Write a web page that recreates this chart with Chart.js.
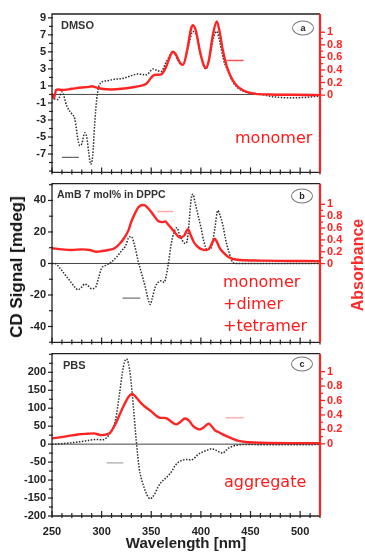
<!DOCTYPE html>
<html lang="en">
<head>
<meta charset="UTF-8">
<title>AmB CD and absorbance spectra</title>
<script src="https://cdn.jsdelivr.net/npm/chart.js"></script>
<style>
  body { margin: 0; background: #fff; width: 365px; height: 553px; position: relative; overflow: hidden;
         font-family: "Liberation Sans", Arial, sans-serif; }
  canvas { position: absolute; left: 0; }
  .lbl { position: absolute; white-space: nowrap; }
  .name { font-weight: bold; font-size: 11px; color: #333; transform: translateY(-50%); }
  .tag { font-family: "DejaVu Sans", sans-serif; font-size: 16px; color: #ff1a1a; line-height: 22px; }
  .circ { width: 20px; height: 13px; border: 1px solid #777; border-radius: 50%; font-weight: bold;
          font-size: 9px; text-align: center; line-height: 13px; color: #222; transform: translate(-50%, -50%); }
  .ytitle { font-weight: bold; font-size: 17px; color: #111; transform: translate(-50%, -50%) rotate(-90deg); }
</style>
</head>
<body>
<canvas id="cA" width="365" height="186" style="top:0px"></canvas>
<canvas id="cB" width="365" height="186" style="top:170px"></canvas>
<canvas id="cC" width="365" height="213" style="top:340px"></canvas>

<div class="lbl name" style="left:61px; top:25px">DMSO</div>
<div class="lbl name" style="left:57px; top:194px; font-size:10.5px">AmB 7 mol% in DPPC</div>
<div class="lbl name" style="left:63px; top:365px">PBS</div>

<div class="lbl circ" style="left:303px; top:28px">a</div>
<div class="lbl circ" style="left:302px; top:196px">b</div>
<div class="lbl circ" style="left:302px; top:364px">c</div>

<div class="lbl tag" style="left:235px; top:127px">monomer</div>
<div class="lbl tag" style="left:223px; top:271px">monomer<br>+dimer<br>+tetramer</div>
<div class="lbl tag" style="left:224px; top:471px">aggregate</div>

<div class="lbl ytitle" style="left:17px; top:267px">CD Signal [mdeg]</div>
<div class="lbl ytitle" style="left:358px; top:265px; color:#ff2a2a; font-size:16px">Absorbance</div>

<script>
// x axis
const xMajor = [250, 300, 350, 400, 450, 500];
const absTicks = [0, 0.2, 0.4, 0.6, 0.8, 1];

// (a) DMSO
const dmsoCdNm = [252, 256, 260, 265, 270, 273, 276, 278, 280, 283, 285, 287, 289, 291, 293, 295, 298, 305, 315, 322, 330, 336, 345, 352, 356, 360, 365, 372, 377, 382, 387, 392, 396, 400, 405, 409, 413, 416, 419, 423, 427, 432, 438, 445, 455, 465, 475, 490, 505, 518];
const dmsoCd = [-0.5, -0.6, 0.3, -1.4, -2.3, -2.9, -5.2, -6.0, -5.8, -4.5, -5.0, -6.8, -8.2, -7.2, -3.5, -0.6, 1.2, 1.6, 1.8, 1.9, 2.2, 2.4, 2.3, 3.0, 2.8, 2.7, 3.8, 5.0, 4.0, 3.5, 5.5, 7.4, 6.8, 4.5, 3.0, 4.5, 6.8, 7.4, 6.2, 4.0, 2.8, 1.5, 0.7, 0.3, 0.1, -0.1, -0.3, -0.4, -0.35, -0.2];
const dmsoAbsNm = [250, 252, 254, 256, 260, 270, 280, 287, 290, 295, 300, 310, 320, 330, 340, 345, 350, 353, 360, 365, 369, 372, 375, 379, 382, 386, 390, 392, 395, 399, 403, 405, 408, 412, 416, 419, 422, 426, 430, 435, 440, 446, 455, 470, 490, 520];
const dmsoAbs = [0.02, -0.05, 0.08, 0.09, 0.08, 0.1, 0.12, 0.13, 0.14, 0.12, 0.1, 0.09, 0.1, 0.12, 0.15, 0.18, 0.28, 0.32, 0.33, 0.45, 0.62, 0.69, 0.64, 0.51, 0.48, 0.7, 1.05, 1.11, 1.02, 0.7, 0.47, 0.43, 0.55, 0.95, 1.17, 1.0, 0.72, 0.46, 0.3, 0.17, 0.1, 0.05, 0.02, 0.01, 0.005, 0];
const dmsoTicks = [-7, -5, -3, -1, 1, 3, 5, 7, 9];

// (b) AmB 7 mol% in DPPC
const dppcCdNm = [250, 253, 258, 263, 268, 273, 276, 280, 283, 286, 290, 294, 297, 300, 305, 310, 315, 320, 324, 328, 330, 333, 337, 341, 344, 347, 349, 351, 354, 357, 360, 363, 365, 367, 370, 373, 376, 378, 381, 384, 386, 388, 390, 392, 394, 397, 400, 403, 406, 409, 411, 414, 417, 419, 422, 425, 428, 431, 434, 450, 480, 520];
const dppcCd = [0, 0, -3, -7, -11, -15, -16.7, -15, -13, -14, -16, -15, -9, -3, -1, 1, 4, 8, 11, 17, 17, 12, 1, -8, -15, -23, -26, -22, -15, -12, -11, -12, -8, -1, 12, 20, 22.7, 19, 15, 12.7, 14, 25, 40, 44, 39, 31, 23, 14, 9, 9, 11, 22, 33.6, 31, 24.7, 15, 7.8, 2, 0, 0, 0, 0];
const dppcAbsNm = [250, 260, 270, 280, 288, 295, 300, 307, 313, 318, 323, 327, 330, 334, 337, 341, 344, 347, 350, 354, 357, 361, 364, 367, 371, 375, 379, 383, 387, 390, 393, 397, 401, 406, 409, 412, 414, 416, 419, 423, 427, 432, 440, 460, 490, 520];
const dppcAbs = [0.26, 0.24, 0.23, 0.24, 0.23, 0.2, 0.21, 0.23, 0.26, 0.33, 0.44, 0.56, 0.71, 0.86, 0.95, 0.99, 0.98, 0.93, 0.87, 0.78, 0.72, 0.7, 0.71, 0.66, 0.58, 0.5, 0.44, 0.47, 0.58, 0.47, 0.36, 0.28, 0.24, 0.23, 0.27, 0.37, 0.42, 0.37, 0.26, 0.18, 0.12, 0.08, 0.06, 0.05, 0.045, 0.04];
const dppcTicks = [-40, -20, 0, 20, 40];

// (c) PBS
const pbsCdNm = [250, 262, 276, 286, 293, 301, 305, 309, 314, 318, 321, 323, 325, 327, 329, 332, 335, 338, 341, 344, 347, 349, 351, 354, 357, 360, 364, 368, 371, 374, 377, 381, 386, 390, 393, 397, 401, 405, 411, 416, 420, 422, 425, 428, 432, 436, 446, 470, 500, 520];
const pbsCd = [0, 2, 6, 10, 13, 12, 18, 33, 68, 140, 200, 228, 237, 225, 190, 104, 6, -70, -105, -130, -148, -152, -148, -136, -118, -106, -96, -85, -74, -60, -51, -45, -43, -44, -40, -29, -23, -18, -13, -18, -24, -25, -18, -11, -6, -3, -1, -2, -2, -1];
const pbsAbsNm = [250, 263, 276, 286, 292, 300, 305, 309, 313, 318, 322, 327, 331, 335, 340, 345, 350, 355, 359, 363, 366, 370, 375, 379, 384, 388, 392, 396, 399, 403, 408, 411, 414, 418, 422, 427, 432, 438, 445, 460, 490, 520];
const pbsAbs = [0.075, 0.1, 0.13, 0.14, 0.145, 0.12, 0.13, 0.16, 0.25, 0.4, 0.52, 0.65, 0.69, 0.64, 0.56, 0.5, 0.45, 0.39, 0.36, 0.36, 0.35, 0.31, 0.27, 0.3, 0.35, 0.32, 0.25, 0.21, 0.2, 0.23, 0.28, 0.24, 0.19, 0.16, 0.13, 0.1, 0.07, 0.04, 0.025, 0.015, 0.01, 0.01];
const pbsTicks = [-200, -150, -100, -50, 0, 50, 100, 150, 200];

// stray legend keys left in the figure: [nm from, nm to], level
const dmsoKeyCd = [[260, 277], -7.4], dmsoKeyAbs = [[426, 443], 0.55];
const dppcKeyCd = [[321, 339], -22], dppcKeyAbs = [[356, 372], 0.88];
const pbsKeyCd = [[305, 322], -52], pbsKeyAbs = [[425, 443], 0.36];

const RED = '#ff2424';

function pts(nm, vals) { return nm.map((x, i) => ({ x: x, y: vals[i] })); }
function keyPts(k) { return [{ x: k[0][0], y: k[1] }, { x: k[0][1], y: k[1] }]; }
function seg(ctx, x1, y1, x2, y2) { ctx.beginPath(); ctx.moveTo(x1, y1); ctx.lineTo(x2, y2); ctx.stroke(); }
const r3 = v => Math.round(v * 1000) / 1000;

// frame, zero line and major/minor ticks drawn through the scales
const framePlugin = {
    id: 'frame',
    beforeDatasetsDraw(chart) {
        const { ctx, chartArea: a, scales } = chart;
        const y0 = scales.y.getPixelForValue(0);
        ctx.save();
        ctx.strokeStyle = '#444';
        ctx.lineWidth = 1;
        seg(ctx, a.left, y0, a.right, y0);
        ctx.restore();
    },
    afterDatasetsDraw(chart) {
        const o = chart.options.plugins.frame;
        const { ctx, chartArea: a, scales } = chart;
        const { x, y, y2 } = scales;
        ctx.save();
        ctx.strokeStyle = '#222';
        ctx.lineWidth = 1.3;
        ctx.beginPath();
        ctx.moveTo(a.right, a.top); ctx.lineTo(a.left, a.top);
        ctx.lineTo(a.left, a.bottom); ctx.lineTo(a.right, a.bottom);
        ctx.stroke();
        ctx.lineWidth = 1.2;
        for (let v = 250; v <= 520; v += 10) {
            const px = x.getPixelForValue(v);
            const major = v % 50 === 0;
            seg(ctx, px, a.bottom - (major ? 5 : 3), px, a.bottom + 2);
        }
        for (let i = 0; ; i++) {
            const v = r3(o.minorFrom + i * o.minorStep);
            if (v > y.max) break;
            const py = y.getPixelForValue(v);
            const major = o.ticks.includes(v);
            seg(ctx, a.left - (major ? 4 : 3), py, a.left + 1, py);
        }
        ctx.strokeStyle = RED;
        ctx.lineWidth = 2.2;
        seg(ctx, a.right, a.top, a.right, a.bottom);
        ctx.lineWidth = 1.3;
        for (let i = 0; i <= 10; i++) {
            const v = r3(i * 0.1);
            const py = y2.getPixelForValue(v);
            seg(ctx, a.right, py, a.right + (i % 2 === 0 ? 5 : 3), py);
        }
        ctx.restore();
    }
};

const tickFont = { family: '"Liberation Sans", Arial, sans-serif', weight: 'bold', size: 11 };

function makePanel(p) {
    return new Chart(document.getElementById(p.id), {
        type: 'line',
        data: {
            datasets: [
                { data: pts(p.absNm, p.abs), yAxisID: 'y2', borderColor: RED, borderWidth: 2.4,
                  cubicInterpolationMode: 'monotone', pointRadius: 0 },
                { data: pts(p.cdNm, p.cd), yAxisID: 'y', borderColor: '#2a2a2a', borderWidth: 1.5,
                  borderDash: [1.5, 1.5], cubicInterpolationMode: 'monotone', pointRadius: 0 },
                { data: keyPts(p.keyCd), yAxisID: 'y', borderColor: p.keyCdColor, borderWidth: 1.3, pointRadius: 0 },
                { data: keyPts(p.keyAbs), yAxisID: 'y2', borderColor: p.keyAbsColor, borderWidth: 1.5, pointRadius: 0 }
            ]
        },
        options: {
            responsive: false,
            animation: false,
            layout: { padding: { top: p.padTop, left: 0, right: 0, bottom: 0 } },
            plugins: {
                legend: { display: false },
                tooltip: { enabled: false },
                frame: { ticks: p.ticks, minorFrom: p.minorFrom, minorStep: p.minorStep }
            },
            scales: {
                x: {
                    type: 'linear', min: 250, max: 520,
                    grid: { display: false, drawTicks: false }, border: { display: false },
                    afterBuildTicks: s => { s.ticks = xMajor.map(v => ({ value: v })); },
                    afterFit: s => { s.height = p.xHeight; },
                    ticks: { display: p.xLabels, padding: 9, color: '#222', font: tickFont, maxRotation: 0 },
                    title: { display: p.xLabels, text: 'Wavelength [nm]', color: '#222', padding: 0,
                             font: { family: '"Liberation Sans", Arial, sans-serif', weight: 'bold', size: 15 } }
                },
                y: {
                    position: 'left', min: p.yMin, max: p.yMax,
                    grid: { display: false, drawTicks: false }, border: { display: false },
                    afterBuildTicks: s => { s.ticks = p.ticks.map(v => ({ value: v })); },
                    afterFit: s => { s.width = 52; },
                    ticks: { padding: 6, color: '#222', font: tickFont, callback: v => String(v) }
                },
                y2: {
                    position: 'right', min: p.rMin, max: p.rMax,
                    grid: { display: false, drawTicks: false }, border: { display: false },
                    afterBuildTicks: s => { s.ticks = absTicks.map(v => ({ value: v })); },
                    afterFit: s => { s.width = 45; },
                    ticks: { padding: 7, color: RED, font: tickFont, callback: v => String(v) }
                }
            }
        },
        plugins: [framePlugin]
    });
}

makePanel({ id: 'cA', padTop: 14, xHeight: 8, xLabels: false,
    cdNm: dmsoCdNm, cd: dmsoCd, absNm: dmsoAbsNm, abs: dmsoAbs,
    keyCd: dmsoKeyCd, keyAbs: dmsoKeyAbs, keyCdColor: '#666', keyAbsColor: '#ff5050',
    yMin: -9.16, yMax: 9.45, ticks: dmsoTicks, minorFrom: -9, minorStep: 1, rMin: -1.23, rMax: 1.29 });

makePanel({ id: 'cB', padTop: 8, xHeight: 9, xLabels: false,
    cdNm: dppcCdNm, cd: dppcCd, absNm: dppcAbsNm, abs: dppcAbs,
    keyCd: dppcKeyCd, keyAbs: dppcKeyAbs, keyCdColor: '#777', keyAbsColor: '#ffaaaa',
    yMin: -50.1, yMax: 50.7, ticks: dppcTicks, minorFrom: -50, minorStep: 10, rMin: -1.33, rMax: 1.35 });

makePanel({ id: 'cC', padTop: 7, xHeight: 37, xLabels: true,
    cdNm: pbsCdNm, cd: pbsCd, absNm: pbsAbsNm, abs: pbsAbs,
    keyCd: pbsKeyCd, keyAbs: pbsKeyAbs, keyCdColor: '#aaa', keyAbsColor: '#ffb0b0',
    yMin: -200, yMax: 252, ticks: pbsTicks, minorFrom: -200, minorStep: 25, rMin: -1.0, rMax: 1.25 });
</script>
</body>
</html>
